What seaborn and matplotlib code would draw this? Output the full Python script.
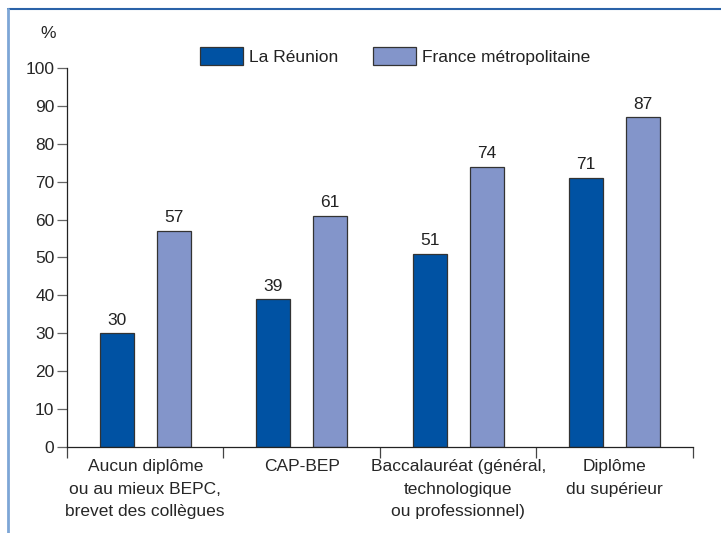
import matplotlib
matplotlib.use("Agg")
import matplotlib.pyplot as plt
from matplotlib.lines import Line2D
import seaborn as sns
import pandas as pd

# Values
categories = [
    "Aucun diplôme\nou au mieux BEPC,\nbrevet des collègues",
    "CAP-BEP",
    "Baccalauréat (général,\ntechnologique\nou professionnel)",
    "Diplôme\ndu supérieur",
]
reunion = [30, 39, 51, 71]
metropole = [57, 61, 74, 87]
series_names = ["La Réunion", "France métropolitaine"]
y_ticks = [0, 10, 20, 30, 40, 50, 60, 70, 80, 90, 100]

df = pd.DataFrame({
    "cat": categories * 2,
    "serie": [series_names[0]] * 4 + [series_names[1]] * 4,
    "val": reunion + metropole,
})

sns.set_style("white")
plt.rcParams["font.family"] = ["Liberation Sans", "DejaVu Sans"]
plt.rcParams["text.color"] = "#222222"
fs = 12.5

fig = plt.figure(figsize=(7.21, 5.33), dpi=100)
ax = fig.add_axes([0.0929, 0.1614, 0.8682, 0.711])

sns.barplot(data=df, x="cat", y="val", hue="serie", order=categories,
            hue_order=series_names, palette=["#0052A3", "#8395CA"],
            saturation=1, width=0.73, gap=0.4, edgecolor="#333333",
            linewidth=0.9, ax=ax, legend=True)

for cont in ax.containers:
    ax.bar_label(cont, padding=4, fontsize=fs, color="#222222")

ax.set_ylim(0, 100)
ax.set_xlim(-0.5, 3.5)
ax.set_yticks(y_ticks)
ax.set_yticklabels([str(t) for t in y_ticks], fontsize=fs)
ax.set_xticks([0, 1, 2, 3])
ax.set_xticklabels(categories, fontsize=fs, linespacing=1.6)
ax.tick_params(axis="x", length=0, pad=9)
# separators between categories, drawn as minor ticks
ax.set_xticks([-0.5, 0.5, 1.5, 2.5, 3.5], minor=True)
ax.tick_params(axis="x", which="minor", length=8, direction="out", color="#444444", width=0.9, bottom=True)
ax.tick_params(axis="y", length=7, direction="out", color="#666666", width=0.9, left=True, pad=2)
ax.set_xlabel("")
ax.set_ylabel("")

for side in ["top", "right"]:
    ax.spines[side].set_visible(False)
for side in ["left", "bottom"]:
    ax.spines[side].set_color("#222222")
    ax.spines[side].set_linewidth(0.9)

handles, labels = ax.get_legend_handles_labels()
ax.get_legend().remove()
fig.legend(handles, labels, loc="center", bbox_to_anchor=(0.548, 0.895), ncol=2,
           frameon=False, fontsize=fs, handlelength=2.5, handleheight=1.3,
           handletextpad=0.35, columnspacing=2.0)

fig.text(48 / 721, 1 - 33 / 533, "%", ha="center", va="center", fontsize=fs)

# decorative frame lines of the original publication
fig.add_artist(Line2D([8 / 721, 1], [1 - 9 / 533, 1 - 9 / 533], color="#2A62A8", lw=1.5))
fig.add_artist(Line2D([8 / 721, 8 / 721], [0, 1 - 9 / 533], color="#7DA6D6", lw=2))

fig.savefig("out.png", dpi=100)
